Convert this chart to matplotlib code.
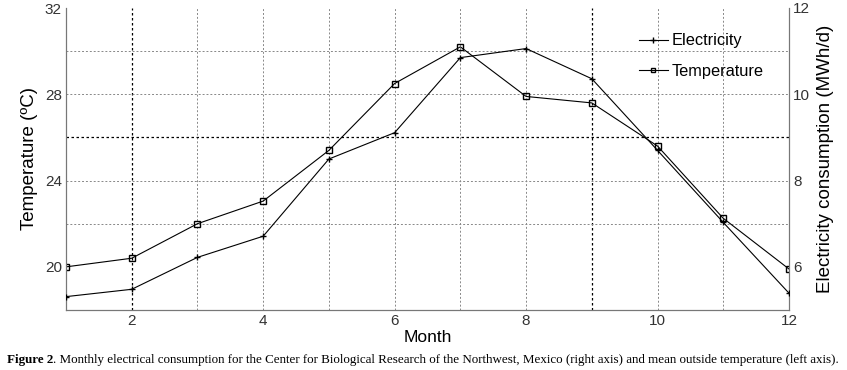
import numpy as np
import matplotlib
matplotlib.use('Agg')
import matplotlib.pyplot as plt

# monthly values
months = [1, 2, 3, 4, 5, 6, 7, 8, 9, 10, 11, 12]
temperature = [20.0, 20.4, 22.0, 23.05, 25.4, 28.5, 30.2, 27.9, 27.6, 25.6, 22.25, 19.9]   # left axis, degC
electricity = [5.31, 5.48, 6.22, 6.71, 8.5, 9.11, 10.85, 11.06, 10.36, 8.7, 7.03, 5.39]     # right axis, MWh/d

x_ticks = [2, 4, 6, 8, 10, 12]
temp_ticks = [20, 24, 28, 32]
elec_ticks = [6, 8, 10, 12]

plt.rcParams['font.family'] = ['Liberation Sans', 'DejaVu Sans']

fig = plt.figure(figsize=(8.47, 3.70), dpi=100)
ax = fig.add_axes([66 / 847, 1 - 310 / 370, (789 - 66) / 847, (310 - 8) / 370])
ax2 = ax.twinx()

ax.set_xlim(1, 12)
ax.set_ylim(18, 32)
ax2.set_ylim(5, 12)

# grid: every month / every 2 degrees, dotted grey (a few come out darker in the original)
for m in months[1:-1]:
    dark = m in (2, 9)
    ax.axvline(m, color='black' if dark else '#888888', ls=(0, (2, 2)), lw=0.9 if dark else 0.7, zorder=0)
for t in [22, 24, 26, 28, 30]:
    dark = t == 26
    ax.axhline(t, color='black' if dark else '#888888', ls=(0, (2, 2)), lw=0.9 if dark else 0.7, zorder=0)

lt, = ax.plot(months, temperature, color='black', lw=0.8, marker='s', ms=4,
              mfc='none', mec='black', mew=1.0, label='Temperature', zorder=3)
le, = ax2.plot(months, electricity, color='black', lw=0.8, marker='+', ms=5,
               mew=1.0, label='Electricity', zorder=3)

ax.set_xticks(x_ticks)
ax.set_yticks(temp_ticks)
ax2.set_yticks(elec_ticks)
for a in (ax, ax2):
    a.tick_params(length=0, labelsize=11, colors='#333333', pad=3)
    a.spines['top'].set_visible(False)
    for s in a.spines.values():
        s.set_color('#777777')
        s.set_linewidth(0.8)

ax.set_xlabel('Month', fontsize=12.5, labelpad=1)
ax.set_ylabel('Temperature (ºC)', fontsize=13.5, labelpad=5)
ax2.set_ylabel('Electricity consumption (MWh/d)', fontsize=13.5, labelpad=5)

leg = ax2.legend([le, lt], ['Electricity', 'Temperature'], loc='upper right',
                 bbox_to_anchor=(0.985, 0.965), frameon=False, fontsize=11.8,
                 handlelength=1.8, handletextpad=0.2, labelspacing=0.95,
                 markerscale=0.8)

# caption: bold "Figure 2" then the rest in regular weight
cap = fig.text(0.008, 0.027, 'Figure 2', family=['Liberation Serif'], fontsize=9.4,
               fontweight='bold', va='center')
fig.canvas.draw()
bb = cap.get_window_extent()
fig.text(bb.x1 / fig.bbox.width, 0.027,
         '. Monthly electrical consumption for the Center for Biological Research of the Northwest, '
         'Mexico (right axis) and mean outside temperature (left axis).',
         family=['Liberation Serif'], fontsize=9.4, va='center')

fig.savefig('out.png', dpi=100)
